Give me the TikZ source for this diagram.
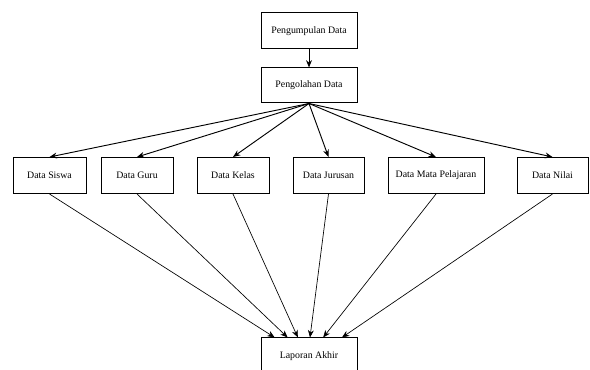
\documentclass[tikz,border=0pt]{standalone}
\usepackage{fontspec}
\setmainfont{Liberation Serif}
\usetikzlibrary{positioning,calc,arrows.meta}

\begin{document}
\begin{tikzpicture}[x=0.75pt,y=-0.75pt,
    box/.style={draw, line width=0.75pt, rectangle, minimum height=27pt, inner sep=0pt, font=\fontsize{7.4}{9}\selectfont},
    arr/.style={-{Stealth[length=5.5pt,width=4.4pt]}, line width=0.5pt}]

    \useasboundingbox (0,0) rectangle (590,370);
    \clip (0,0) rectangle (590,370);

    % top boxes
    \node[box, minimum width=72pt] (kumpul) at (309,31) {Pengumpulan Data};
    \node[box, minimum width=72pt, minimum height=26.25pt] (olah) at (309,85.5) {Pengolahan Data};

    % data boxes
    \node[box, minimum width=54.75pt] (siswa) at (49.5,175.5) {Data Siswa};
    \node[box, minimum width=54pt] (guru) at (137,175.5) {Data Guru};
    \node[box, minimum width=54pt] (kelas) at (233,175.5) {Data Kelas};
    \node[box, minimum width=53.25pt] (jurusan) at (328.5,175.5) {Data Jurusan};
    \node[box, minimum width=72pt] (mapel) at (436,175.5) {Data Mata Pelajaran};
    \node[box, minimum width=53.25pt] (nilai) at (552.5,175.5) {Data Nilai};

    % report box
    \node[box, minimum width=72pt] (lapor) at (309,356) {Laporan Akhir};

    \draw[arr, line width=0.75pt] (kumpul.south) -- (olah.north);

    \foreach \n in {siswa,guru,kelas,jurusan,mapel,nilai} {
        \draw[arr, line width=0.7pt] (olah.south) -- (\n.north);
    }

    \foreach \n/\f in {siswa/0.146,guru/0.28,kelas/0.385,jurusan/0.51,mapel/0.646,nilai/0.84} {
        \draw[arr] (\n.south) -- ($(lapor.north west)!\f!(lapor.north east)$);
    }

\end{tikzpicture}
\end{document}
